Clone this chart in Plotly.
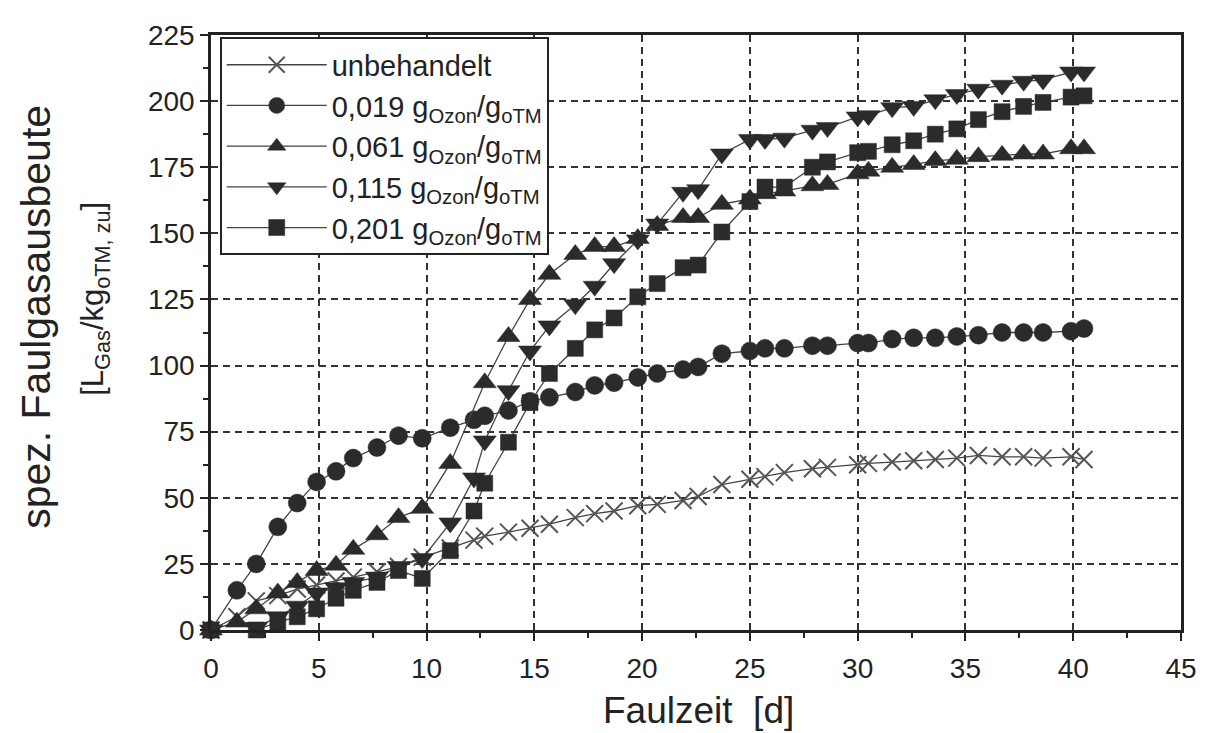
import plotly.graph_objects as go

# ---------------- data ----------------
t_cross = [0, 1.2, 2.1, 3.1, 4.0, 4.9, 5.8, 6.6, 7.7, 8.7, 9.8, 11.1, 12.2, 12.7, 13.8, 14.8, 15.7,
           16.9, 17.8, 18.7, 19.8, 20.7, 21.9, 22.6, 23.7, 25.0, 25.7, 26.6, 27.9, 28.6, 30.0,
           30.5, 31.6, 32.6, 33.6, 34.6, 35.6, 36.7, 37.7, 38.6, 39.9, 40.5]
y_unbehandelt = [0, 5, 11, 13, 15.5, 17, 18.5, 20, 22, 24, 27.5, 31, 34, 35.5, 37, 38.5, 40,
                 42.5, 44, 45, 47, 47.5, 49, 50.5, 55, 57, 58, 59.5, 61, 61.5, 62.5,
                 63, 63.5, 64, 64.5, 65, 66, 65.5, 65.5, 65, 65.5, 64.5]

t_019 = [0, 1.2, 2.1, 3.1, 4.0, 4.9, 5.8, 6.6, 7.7, 8.7, 9.8, 11.1, 12.2, 12.7, 13.8, 14.8, 15.7,
         16.9, 17.8, 18.7, 19.8, 20.7, 21.9, 22.6, 23.7, 25.0, 25.7, 26.6, 27.9, 28.6, 30.0,
         30.5, 31.6, 32.6, 33.6, 34.6, 35.6, 36.7, 37.7, 38.6, 39.9, 40.5]
y_019 = [0, 15, 25, 39, 48, 56, 60, 65, 69, 73.5, 72.5, 76.5, 79.5, 81, 83, 86.5, 88,
         90, 92.5, 93.5, 95.5, 97, 98.5, 99.5, 104.5, 105.5, 106.5, 106.5, 107.5, 107.5, 108.5,
         108.5, 110, 110.5, 110.5, 111, 111.5, 112.5, 112.5, 112.5, 113, 114]

t_061 = [0, 1.2, 2.1, 3.1, 4.0, 4.9, 5.8, 6.6, 7.7, 8.7, 9.8, 11.1, 12.7, 13.8, 14.8, 15.7,
         16.9, 17.8, 18.7, 19.8, 20.7, 21.9, 22.6, 23.7, 25.0, 25.7, 26.6, 27.9, 28.6, 30.0,
         30.5, 31.6, 32.6, 33.6, 34.6, 35.6, 36.7, 37.7, 38.6, 39.9, 40.5]
y_061 = [0, 3, 8, 14, 18, 22.5, 24.5, 30.5, 36, 42.5, 46, 63, 93.5, 111, 125, 134.5,
         142, 145, 145, 148, 153, 156, 156, 161, 163, 165, 166, 168, 168.5, 172.5,
         173.5, 175, 176, 177.5, 178, 179, 179.5, 180, 180, 182, 182]

t_115 = [0, 1.2, 2.1, 3.1, 4.0, 4.9, 5.8, 6.6, 7.7, 8.7, 9.8, 11.1, 12.2, 12.7, 13.8, 14.8, 15.7,
         16.9, 17.8, 18.7, 19.8, 20.7, 21.9, 22.6, 23.7, 25.0, 25.7, 26.6, 27.9, 28.6, 30.0,
         30.5, 31.6, 32.6, 33.6, 34.6, 35.6, 36.7, 37.7, 38.6, 39.9, 40.5]
y_115 = [0, -3, 1, 5, 9, 14, 16, 18, 20, 24, 27, 40.5, 57.5, 71.5, 90.5, 105.5, 115,
         123, 130, 138.5, 147.5, 153.5, 165.5, 166.5, 180, 185.5, 185.5, 186, 189, 190, 194,
         194.5, 197.5, 198, 200.5, 202.5, 204.5, 206, 207.5, 208, 211, 211]

t_201 = [0, 1.2, 2.1, 3.1, 4.0, 4.9, 5.8, 6.6, 7.7, 8.7, 9.8, 11.1, 12.2, 12.7, 13.8, 14.8, 15.7,
         16.9, 17.8, 18.7, 19.8, 20.7, 21.9, 22.6, 23.7, 25.0, 25.7, 26.6, 27.9, 28.6, 30.0,
         30.5, 31.6, 32.6, 33.6, 34.6, 35.6, 36.7, 37.7, 38.6, 39.9, 40.5]
y_201 = [0, -3, 0, 3, 5, 8, 12, 15, 18, 22.5, 19.5, 30, 45, 55.5, 71, 86, 97,
         106.5, 113.5, 118, 126, 131, 137, 138, 150.5, 162, 167.5, 167.5, 175, 177, 180.5,
         181, 183.5, 185, 187.5, 189.5, 193, 196, 198, 199.5, 201.5, 202]

series_names = [
    "unbehandelt",
    "0,019 g<sub>Ozon</sub>/g<sub>oTM</sub>",
    "0,061 g<sub>Ozon</sub>/g<sub>oTM</sub>",
    "0,115 g<sub>Ozon</sub>/g<sub>oTM</sub>",
    "0,201 g<sub>Ozon</sub>/g<sub>oTM</sub>",
]
x_ticks = [0, 5, 10, 15, 20, 25, 30, 35, 40, 45]
y_ticks = [0, 25, 50, 75, 100, 125, 150, 175, 200, 225]

# ---------------- figure ----------------
DARK = "#2b2b2b"
LINE = "#444444"
FONT = "Liberation Sans"

fig = go.Figure()

specs = [
    (t_cross, y_unbehandelt, series_names[0], "x-thin-open", 17, "#555555"),
    (t_019, y_019, series_names[1], "circle", 18, DARK),
    (t_061, y_061, series_names[2], "triangle-up", 20, DARK),
    (t_115, y_115, series_names[3], "triangle-down", 20, DARK),
    (t_201, y_201, series_names[4], "square", 16, DARK),
]
for xs, ys, name, sym, size, col in specs:
    marker = dict(symbol=sym, size=size, color=col)
    if sym == "x-thin-open":
        marker["line"] = dict(color=col, width=2)
    else:
        marker["line"] = dict(color=col, width=0.5)
    fig.add_trace(go.Scatter(
        x=xs, y=ys, name=name, mode="lines+markers",
        line=dict(color=LINE, width=1.3),
        marker=marker, cliponaxis=False,
    ))

axis_common = dict(
    showline=True, linewidth=2.5, linecolor="#222", mirror=True,
    ticks="outside", ticklen=8, tickwidth=2, tickcolor="#222",
    showgrid=True, gridcolor="#333", gridwidth=1.6, griddash="7px,5px",
    zeroline=False,
    tickfont=dict(family=FONT, size=28, color="#222"),
    minor=dict(ticks="outside", ticklen=5, tickwidth=1.5, tickcolor="#222", showgrid=False),
)

fig.update_xaxes(range=[0, 45], tickvals=x_ticks, minor_dtick=2.5, ticklabelstandoff=4,
                 **axis_common)
fig.update_yaxes(range=[0, 225], tickvals=y_ticks, minor_dtick=12.5, **axis_common)

fig.update_layout(
    width=1201, height=725,
    margin=dict(l=203, r=26, t=19, b=103),
    plot_bgcolor="white", paper_bgcolor="white",
    font=dict(family=FONT, color="#222"),
    legend=dict(
        x=0.009, y=0.996, xanchor="left", yanchor="top",
        bgcolor="white", bordercolor="#222", borderwidth=2,
        font=dict(family=FONT, size=29, color="#222"),
        itemwidth=100, tracegroupgap=0,
    ),
    annotations=[
        dict(text="spez. Faulgasausbeute", xref="paper", yref="paper",
             x=-0.180, y=0.527, xanchor="center", yanchor="middle", textangle=-90,
             showarrow=False, font=dict(family=FONT, size=41, color="#222")),
        dict(text="[L<sub>Gas</sub>/kg<sub>oTM, zu</sub>]", xref="paper", yref="paper",
             x=-0.119, y=0.556, xanchor="center", yanchor="middle", textangle=-90,
             showarrow=False, font=dict(family=FONT, size=31, color="#222")),
        dict(text="Faulzeit\u00a0\u00a0[d]", xref="paper", yref="paper",
             x=0.503, y=-0.135, xanchor="center", yanchor="middle",
             showarrow=False, font=dict(family=FONT, size=37, color="#222")),
    ],
)

fig.write_html("out.html")
